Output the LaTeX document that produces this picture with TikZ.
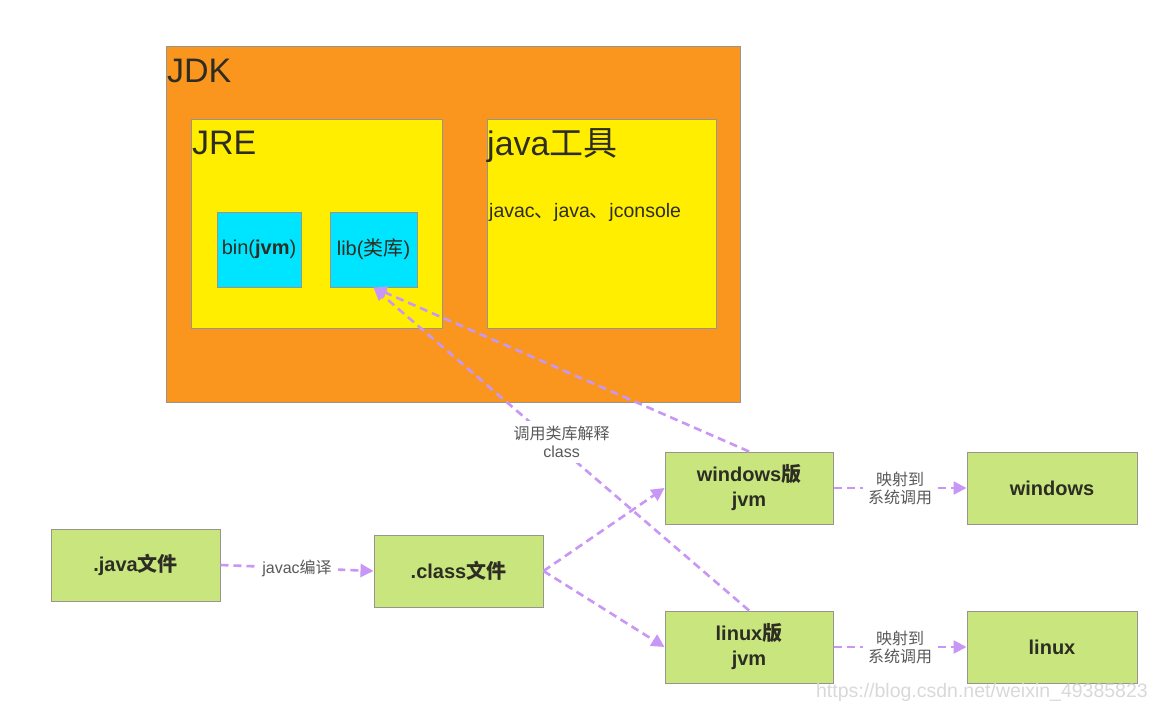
\documentclass[tikz,border=0pt]{standalone}
\usepackage{fontspec}
\setmainfont{Liberation Sans}
\newfontfamily\cjk{Noto Sans CJK SC}
\usetikzlibrary{arrows.meta}
\definecolor{jdkorange}{RGB}{250,150,30}
\definecolor{jreyellow}{RGB}{255,238,0}
\definecolor{libcyan}{RGB}{0,229,255}
\definecolor{boxgreen}{RGB}{200,230,125}
\definecolor{flowviolet}{RGB}{200,150,245}
\definecolor{txt}{RGB}{45,45,35}
\definecolor{edgegray}{RGB}{150,150,140}
\tikzset{
  box/.style={draw=edgegray, line width=1pt, inner sep=0pt, text=txt},
  jdkbox/.style={box, fill=jdkorange},
  jrebox/.style={box, fill=jreyellow},
  libbox/.style={box, fill=libcyan, font=\fontsize{20}{24}\selectfont},
  greenbox/.style={box, fill=boxgreen, align=center, font=\bfseries\fontsize{20}{25}\selectfont},
  title/.style={anchor=north west, inner sep=0pt, text=txt, font=\fontsize{34}{38}\selectfont},
  flow/.style={draw=flowviolet, line width=2.6pt, dash pattern=on 8pt off 5pt, -{Triangle[length=13pt,width=13pt,fill=flowviolet]}},
  lbl/.style={fill=white, inner sep=6pt, align=center, text=black!65, font=\fontsize{16}{18}\selectfont}
}
\begin{document}
\begin{tikzpicture}[x=1pt,y=-1pt]
\useasboundingbox (0,0) rectangle (1176,712);
\fill[white] (0,0) rectangle (1176,712);
% JDK
\node[jdkbox, minimum width=574pt, minimum height=356pt] (jdk) at (453,224) {};
\node[title] (jdkt) at (167,59) {JDK};
% JRE
\node[jrebox, minimum width=251pt, minimum height=209pt] (jre) at (316.5,223.5) {};
\node[title] (jret) at (192,131) {JRE};
% tools
\node[jrebox, minimum width=229pt, minimum height=209pt] (tools) at (601.5,223.5) {};
\node[title] (toolst) at (487,128) {java{\cjk 工具}};
\node[anchor=west, inner sep=0pt, text=txt, font=\fontsize{19.5}{22}\selectfont] (toolsl) at (489,212) {javac{\cjk 、}java{\cjk 、}jconsole};
% bin & lib
\node[libbox, minimum width=84pt, minimum height=75pt] (bin) at (259,249.5) {bin(\textbf{jvm})};
\node[libbox, minimum width=87pt, minimum height=75pt] (lib) at (373.5,249.5) {lib({\cjk 类库})};
% green boxes
\node[greenbox, minimum width=169pt, minimum height=72pt] (jf) at (135.5,565) {.java{\cjk\bfseries 文件}};
\node[greenbox, minimum width=169pt, minimum height=72pt] (cf) at (458.5,571) {.class{\cjk\bfseries 文件}};
\node[greenbox, minimum width=168pt, minimum height=72pt] (wj) at (749,488) {windows{\cjk\bfseries 版}\\jvm};
\node[greenbox, minimum width=168pt, minimum height=72pt] (lj) at (749,647) {linux{\cjk\bfseries 版}\\jvm};
\node[greenbox, minimum width=170pt, minimum height=72pt] (win) at (1052,488) {windows};
\node[greenbox, minimum width=170pt, minimum height=72pt] (lin) at (1052,647) {linux};
% connectors
\draw[flow] (jf.east) -- node[lbl] {javac{\cjk 编译}} (cf.west);
\draw[flow] (cf.east) -- (wj.west);
\draw[flow] (cf.east) -- (lj.west);
\draw[flow] (wj.north) -- (lib.south);
\draw[flow] (lj.north) -- node[lbl, pos=0.515, inner sep=5pt, xshift=6pt, yshift=2pt] {{\cjk 调用类库解释}\\class} (lib.south);
\draw[flow] (wj.east) -- node[lbl, inner sep=5pt] {{\cjk 映射到}\\{\cjk 系统调用}} (win.west);
\draw[flow] (lj.east) -- node[lbl, inner sep=5pt] {{\cjk 映射到}\\{\cjk 系统调用}} (lin.west);
% watermark
\node[anchor=east, inner sep=0pt, text=black!15, font=\fontsize{19.5}{22}\selectfont] (wm) at (1148,692) {https://blog.csdn.net/weixin\_49385823};
\end{tikzpicture}
\end{document}
